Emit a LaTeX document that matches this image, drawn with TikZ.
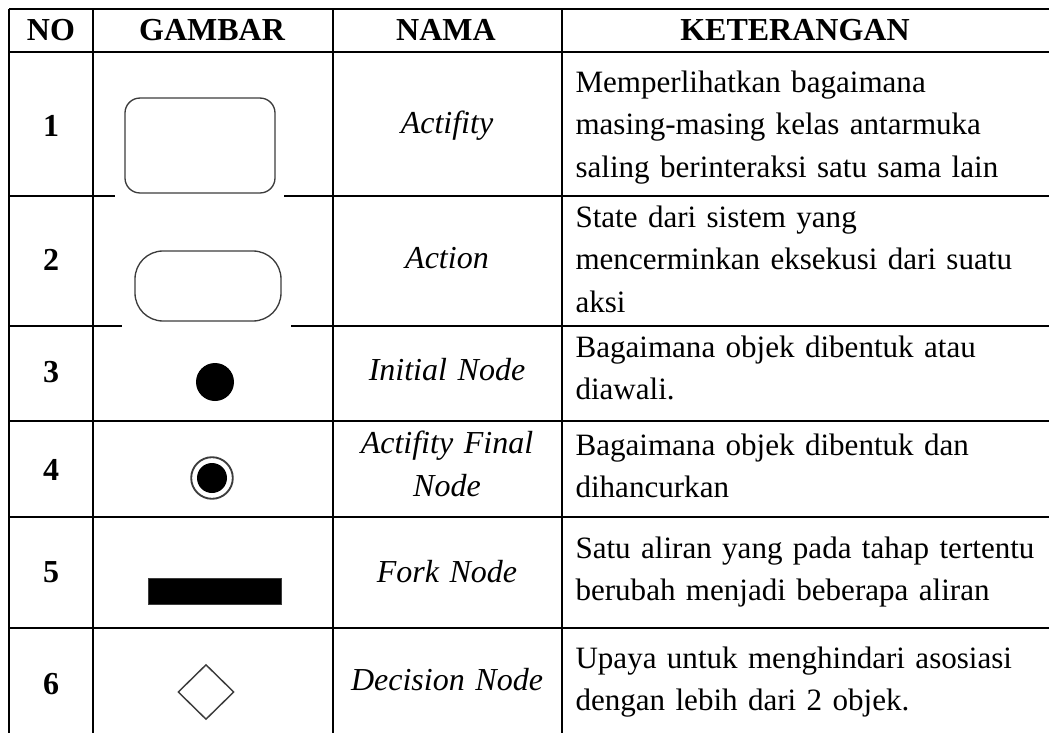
\documentclass[tikz,border=0pt]{standalone}
\usepackage{fontspec}
\setmainfont{Liberation Serif}
\usepackage{tikz}
\usetikzlibrary{shapes.geometric, positioning}
\definecolor{tblline}{RGB}{0,0,0}
\definecolor{shapeline}{RGB}{60,60,60}
\definecolor{shapefill}{RGB}{0,0,0}
\tikzset{
  gridline/.style={line width=1.05pt, color=tblline},
  hdrtext/.style={font=\fontsize{12pt}{16pt}\selectfont\bfseries, inner sep=0pt},
  numtext/.style={font=\fontsize{12pt}{16pt}\selectfont\bfseries, inner sep=0pt},
  nametext/.style={font=\fontsize{12pt}{16.3pt}\selectfont\itshape,
    text width=90pt, align=center, anchor=base, inner sep=0pt},
  infotext/.style={font=\fontsize{11.65pt}{16.1pt}\selectfont,
    text width=180pt, align=left, anchor=base west, inner sep=0pt},
  activitybox/.style={rectangle, draw=shapeline, line width=0.5pt,
    rounded corners=5.6pt, minimum width=56.25pt, minimum height=35.6pt,
    inner sep=0pt, outer sep=0pt},
  actionbox/.style={rectangle, draw=shapeline, line width=0.5pt,
    rounded corners=10.5pt, minimum width=54.75pt, minimum height=26.25pt,
    inner sep=0pt, outer sep=0pt},
  initnode/.style={circle, fill=shapefill, minimum size=14.25pt, inner sep=0pt},
  finalring/.style={circle, draw=shapeline, line width=0.7pt,
    minimum size=15.6pt, inner sep=0pt},
  finaldot/.style={circle, fill=shapefill, minimum size=11.25pt, inner sep=0pt},
  forkbar/.style={rectangle, fill=shapefill, draw=shapeline, line width=0.3pt,
    minimum width=49.9pt, minimum height=9.75pt, inner sep=0pt},
  decisionnode/.style={diamond, draw=shapeline, line width=0.55pt, aspect=1,
    minimum width=21pt, minimum height=20.6pt, inner sep=0pt}
}

\begin{document}
\begin{tikzpicture}[x=0.375pt, y=-0.375pt]
  \useasboundingbox (0,0) rectangle (1049,733);
  \draw[gridline] (9,9) -- (1049,9);
  \draw[gridline] (9,52) -- (1049,52);
  \draw[gridline] (9,196) -- (115,196);
  \draw[gridline] (284,196) -- (1049,196);
  \draw[gridline] (9,326) -- (122,326);
  \draw[gridline] (291,326) -- (1049,326);
  \foreach \yrow in {421,517,628}
    \draw[gridline] (9,\yrow) -- (1049,\yrow);
  \foreach \xcol in {9,93,333,562}
    \draw[gridline] (\xcol,9) -- (\xcol,733);

  \node[hdrtext] (hno) at (51,30) {NO};
  \node[hdrtext] (hgambar) at (212,30) {GAMBAR};
  \node[hdrtext] (hnama) at (446,30) {NAMA};
  \node[hdrtext] (hket) at (795,30) {KETERANGAN};

  \node[numtext] (n1) at (51,126) {1};
  \node[numtext] (n2) at (51,260) {2};
  \node[numtext] (n3) at (51,372) {3};
  \node[numtext] (n4) at (51,470) {4};
  \node[numtext] (n5) at (51,572) {5};
  \node[numtext] (n6) at (51,684) {6};

  \node[activitybox] (activity) at (200,145.5) {};
  \node[actionbox] (action) at (208,286) {};
  \node[initnode] (initial) at (215,382) {};
  \node[finalring] (final) at (212,478) {};
  \node[finaldot] (finalin) at (final) {};
  \node[forkbar] (fork) at (214.5,591) {};
  \node[decisionnode] (decision) at (206,692) {};

  \node[nametext] (m1) at (447,133) {Actifity};
  \node[nametext] (m2) at (447,268) {Action};
  \node[nametext] (m3) at (447,380) {Initial Node};
  \node[nametext] (m4) at (447,453) {Actifity Final\\Node};
  \node[nametext] (m5) at (447,582) {Fork Node};
  \node[nametext] (m6) at (447,690) {Decision Node};

  \node[infotext] (k1) at (575,92) {Memperlihatkan bagaimana\\masing-masing kelas antarmuka\\saling berinteraksi satu sama lain};
  \node[infotext] (k2) at (575,227) {State dari sistem yang\\mencerminkan eksekusi dari suatu\\aksi};
  \node[infotext] (k3) at (575,357) {Bagaimana objek dibentuk atau\\diawali.};
  \node[infotext] (k4) at (575,455) {Bagaimana objek dibentuk dan\\dihancurkan};
  \node[infotext] (k5) at (575,558) {Satu aliran yang pada tahap tertentu\\berubah menjadi beberapa aliran};
  \node[infotext] (k6) at (575,668) {Upaya untuk menghindari asosiasi\\dengan lebih dari 2 objek.};
\end{tikzpicture}
\end{document}
